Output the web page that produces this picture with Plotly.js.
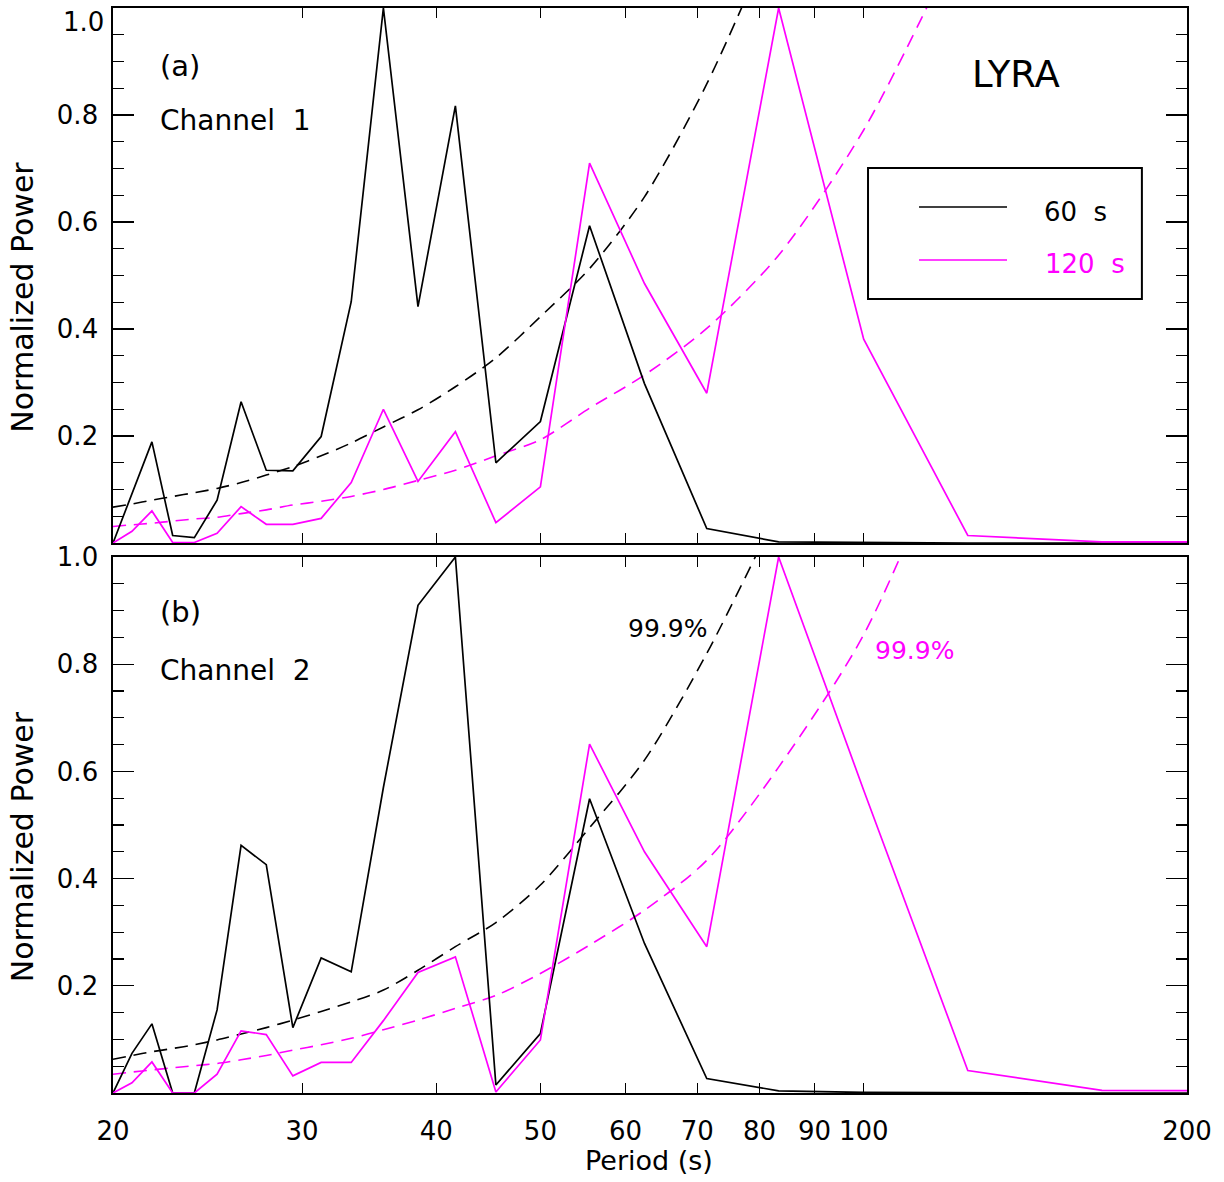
<!DOCTYPE html>
<html>
<head>
<meta charset="utf-8">
<script src="https://cdn.plot.ly/plotly-3.0.1.min.js"></script>
<style>html,body{margin:0;padding:0;background:#fff;}#chart{width:1224px;height:1182px;}</style>
</head>
<body>
<div id="chart"></div>
<script>
// Periods (s) of the spectral points
const periods = [20, 20.83, 21.74, 22.73, 23.81, 25, 26.32, 27.78, 29.41, 31.25, 33.33, 35.71, 38.46, 41.67, 45.45, 50, 55.56, 62.5, 71.43, 83.33, 100, 125, 166.67, 250];

// Panel (a) Channel 1
const ch1_60s  = [0, 0.092, 0.189, 0.014, 0.010, 0.080, 0.264, 0.136, 0.135, 0.199, 0.451, 1.0, 0.442, 0.817, 0.150, 0.227, 0.593, 0.298, 0.027, 0.002, 0.0005, 0, 0, 0];
const ch1_120s = [0, 0.022, 0.060, 0.001, 0.001, 0.018, 0.068, 0.035, 0.035, 0.046, 0.113, 0.250, 0.115, 0.208, 0.038, 0.105, 0.710, 0.485, 0.280, 1.0, 0.381, 0.014, 0.002, 0.002];

// Panel (b) Channel 2
const ch2_60s  = [0, 0.074, 0.129, 0, 0, 0.155, 0.462, 0.426, 0.122, 0.252, 0.226, 0.57, 0.910, 1.0, 0.015, 0.111, 0.549, 0.279, 0.027, 0.004, 0.001, 0, 0, 0];
const ch2_120s = [0, 0.019, 0.058, 0, 0, 0.035, 0.116, 0.109, 0.032, 0.057, 0.057, 0.135, 0.225, 0.254, 0.002, 0.099, 0.651, 0.450, 0.273, 1.0, 0.565, 0.042, 0.005, 0.004];

// 99.9% significance levels
const sigPeriods60  = [20, 20.83, 21.74, 22.73, 23.81, 25, 26.32, 27.78, 29.41, 31.25, 33.33, 35.71, 38.46, 41.67, 45.45, 50, 55.56, 62.5, 71.43, 83.33];
const sigPeriods120 = [20, 20.83, 21.74, 22.73, 23.81, 25, 26.32, 27.78, 29.41, 31.25, 33.33, 35.71, 38.46, 41.67, 45.45, 50, 55.56, 62.5, 71.43, 83.33, 100, 125];
const ch1_sig60  = [0.067, 0.073, 0.080, 0.087, 0.094, 0.102, 0.113, 0.127, 0.143, 0.163, 0.187, 0.217, 0.249, 0.292, 0.346, 0.423, 0.513, 0.647, 0.858, 1.16];
const ch1_sig120 = [0.031, 0.034, 0.037, 0.041, 0.045, 0.048, 0.055, 0.062, 0.071, 0.078, 0.087, 0.100, 0.117, 0.136, 0.163, 0.193, 0.252, 0.314, 0.401, 0.538, 0.772, 1.16];
const ch2_sig60  = [0.063, 0.070, 0.077, 0.083, 0.090, 0.099, 0.110, 0.122, 0.136, 0.152, 0.170, 0.192, 0.229, 0.273, 0.318, 0.388, 0.495, 0.621, 0.820, 1.09];
const ch2_sig120 = [0.035, 0.039, 0.043, 0.047, 0.051, 0.055, 0.062, 0.070, 0.080, 0.090, 0.102, 0.118, 0.136, 0.158, 0.182, 0.223, 0.276, 0.341, 0.434, 0.608, 0.855, 1.3];

// Axis ticks
const xTickVals = [20, 30, 40, 50, 60, 70, 80, 90, 100, 200];
const xTickText = ["20", "30", "40", "50", "60", "70", "80", "90", "100", "200"];
const yTickVals = [0.2, 0.4, 0.6, 0.8, 1.0];
const yTickText = ["0.2", "0.4", "0.6", "0.8", "1.0"];

const BLACK = '#000000';
const MAG = '#ff00ff';
const FONT = 'DejaVu Sans, sans-serif';

function solid(x, y, c, xa, ya) {
  return {x: x, y: y, type: 'scatter', mode: 'lines', xaxis: xa, yaxis: ya,
          line: {color: c, width: 1.7}, showlegend: false, hoverinfo: 'skip'};
}
function dashed(x, y, c, xa, ya) {
  return {x: x, y: y, type: 'scatter', mode: 'lines', xaxis: xa, yaxis: ya,
          line: {color: c, width: 1.6, dash: '13px,8px', shape: 'spline', smoothing: 0.8},
          showlegend: false, hoverinfo: 'skip'};
}

const data = [
  dashed(sigPeriods60, ch1_sig60, BLACK, 'x', 'y'),
  dashed(sigPeriods120, ch1_sig120, MAG, 'x', 'y'),
  solid(periods, ch1_60s, BLACK, 'x', 'y'),
  solid(periods, ch1_120s, MAG, 'x', 'y'),
  dashed(sigPeriods60, ch2_sig60, BLACK, 'x2', 'y2'),
  dashed(sigPeriods120, ch2_sig120, MAG, 'x2', 'y2'),
  solid(periods, ch2_60s, BLACK, 'x2', 'y2'),
  solid(periods, ch2_120s, MAG, 'x2', 'y2')
];

function xAxis(anchor, labels) {
  return {
    type: 'log', range: [Math.log10(20), Math.log10(200)], anchor: anchor,
    domain: [0, 1],
    tickmode: 'array', tickvals: xTickVals, ticktext: xTickText,
    showticklabels: labels, ticks: 'inside', ticklen: 10, tickwidth: 1.2, tickcolor: '#000',
    showline: true, linecolor: '#000', linewidth: 1.6, mirror: 'ticks',
    showgrid: false, zeroline: false,
    tickfont: {family: FONT, size: 26, color: '#000'},
    ticklabelstandoff: 14,
    fixedrange: true
  };
}
function yAxis(anchor, domain, nLabels) {
  return {
    range: [0, 1], anchor: anchor, domain: domain,
    tickmode: 'array', tickvals: yTickVals.slice(0, nLabels), ticktext: yTickText.slice(0, nLabels),
    ticks: 'inside', ticklen: 21, tickwidth: 1.2, tickcolor: '#000',
    minor: {tickmode: 'linear', tick0: 0, dtick: 0.05, ticks: 'inside', ticklen: 11, tickwidth: 1.2, tickcolor: '#000', showgrid: false},
    showline: true, linecolor: '#000', linewidth: 1.6, mirror: 'ticks',
    showgrid: false, zeroline: false,
    tickfont: {family: FONT, size: 26, color: '#000'},
    ticklabelstandoff: 8,
    fixedrange: true
  };
}

const annotations = [
  // top label of the upper panel, kept inside the page
  {xref: 'paper', yref: 'y domain', x: -0.0072, y: 1, text: yTickText[4], showarrow: false, xanchor: 'right', yanchor: 'top', yshift: 2, borderpad: 0, font: {family: FONT, size: 26, color: '#000'}},
  {xref: 'x domain', yref: 'y domain', x: 0.042, y: 0.892, text: '(a)', showarrow: false, xanchor: 'left', yanchor: 'middle', font: {family: FONT, size: 29, color: '#000'}},
  {xref: 'x domain', yref: 'y domain', x: 0.042, y: 0.789, text: 'Channel\u00A0\u00A01', showarrow: false, xanchor: 'left', yanchor: 'middle', font: {family: FONT, size: 28, color: '#000'}},
  {xref: 'x domain', yref: 'y domain', x: 0.841, y: 0.875, text: 'LYRA', showarrow: false, xanchor: 'center', yanchor: 'middle', font: {family: FONT, size: 37, color: '#000'}},
  {xref: 'x2 domain', yref: 'y2 domain', x: 0.042, y: 0.897, text: '(b)', showarrow: false, xanchor: 'left', yanchor: 'middle', font: {family: FONT, size: 29, color: '#000'}},
  {xref: 'x2 domain', yref: 'y2 domain', x: 0.042, y: 0.789, text: 'Channel\u00A0\u00A02', showarrow: false, xanchor: 'left', yanchor: 'middle', font: {family: FONT, size: 28, color: '#000'}},
  {xref: 'x2', yref: 'y2', x: Math.log10(65.6), y: 0.867, text: '99.9%', showarrow: false, xanchor: 'center', yanchor: 'middle', font: {family: FONT, size: 25, color: BLACK}},
  {xref: 'x2', yref: 'y2', x: Math.log10(111.4), y: 0.826, text: '99.9%', showarrow: false, xanchor: 'center', yanchor: 'middle', font: {family: FONT, size: 25, color: MAG}},
  // legend texts
  {xref: 'x domain', yref: 'y domain', x: 0.865, y: 0.619, text: '60\u00A0\u00A0s', showarrow: false, xanchor: 'left', yanchor: 'middle', font: {family: FONT, size: 26, color: BLACK}},
  {xref: 'x domain', yref: 'y domain', x: 0.866, y: 0.521, text: '120\u00A0\u00A0s', showarrow: false, xanchor: 'left', yanchor: 'middle', font: {family: FONT, size: 26, color: MAG}},
  // axis titles
  {xref: 'paper', yref: 'y domain', x: -0.084, y: 0.46, text: 'Normalized Power', textangle: -90, showarrow: false, xanchor: 'center', yanchor: 'middle', font: {family: FONT, size: 30, color: '#000'}},
  {xref: 'paper', yref: 'y2 domain', x: -0.084, y: 0.46, text: 'Normalized Power', textangle: -90, showarrow: false, xanchor: 'center', yanchor: 'middle', font: {family: FONT, size: 30, color: '#000'}},
  {xref: 'paper', yref: 'paper', x: 0.4990, y: -0.062, text: 'Period (s)', showarrow: false, xanchor: 'center', yanchor: 'middle', font: {family: FONT, size: 27, color: '#000'}}
];

const shapes = [
  {type: 'rect', xref: 'x domain', yref: 'y domain', x0: 0.703, x1: 0.958, y0: 0.456, y1: 0.701, line: {color: '#000', width: 2}, fillcolor: 'rgba(0,0,0,0)'},
  {type: 'line', xref: 'x domain', yref: 'y domain', x0: 0.7505, x1: 0.8324, y0: 0.628, y1: 0.628, line: {color: BLACK, width: 1.6}},
  {type: 'line', xref: 'x domain', yref: 'y domain', x0: 0.7505, x1: 0.8324, y0: 0.529, y1: 0.529, line: {color: MAG, width: 1.6}}
];

const layout = {
  width: 1224, height: 1182,
  margin: {l: 113, r: 37, t: 8, b: 89, pad: 0},
  paper_bgcolor: '#fff', plot_bgcolor: '#fff',
  showlegend: false,
  xaxis: xAxis('y', false),
  yaxis: yAxis('x', [0.5069, 1], 4),
  xaxis2: xAxis('y2', true),
  yaxis2: yAxis('x2', [0, 0.494], 5),
  annotations: annotations,
  shapes: shapes,
  font: {family: FONT, color: '#000'}
};

Plotly.newPlot('chart', data, layout, {staticPlot: true, displayModeBar: false});
</script>
</body>
</html>
